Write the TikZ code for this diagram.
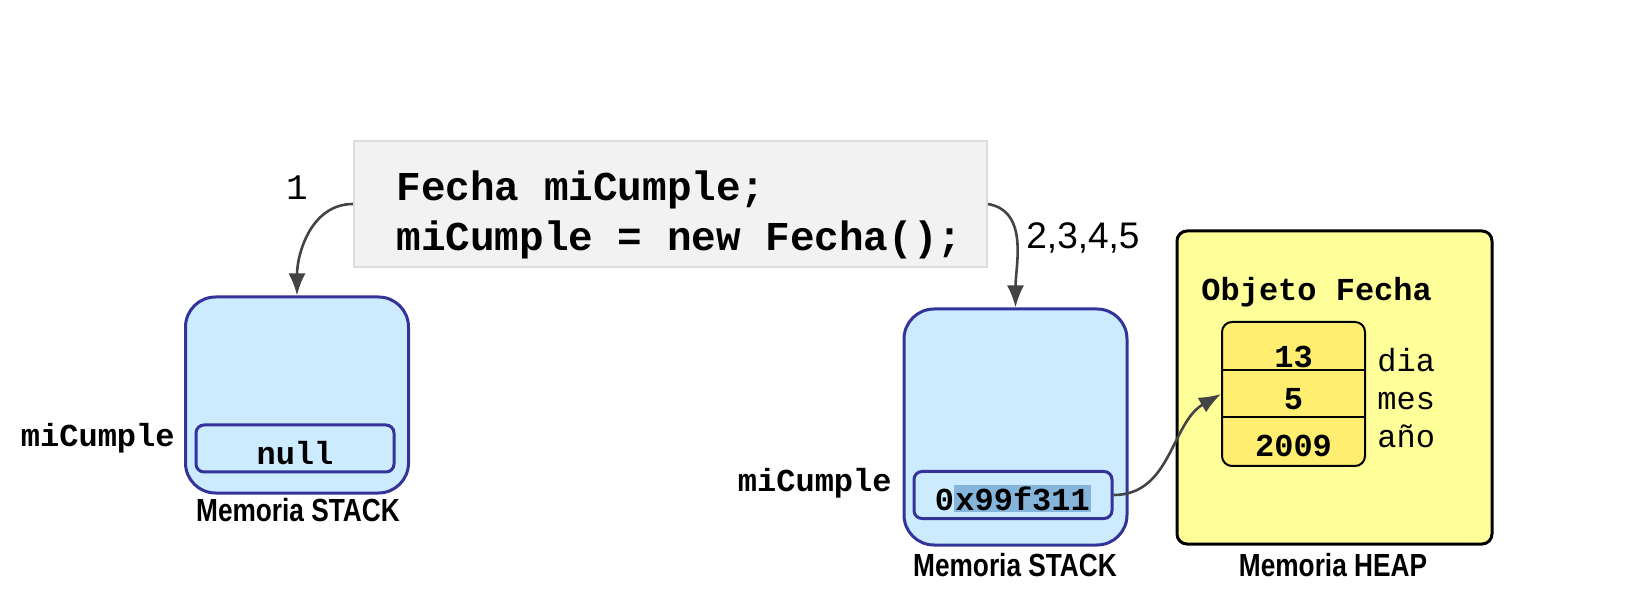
\documentclass[tikz,border=0pt]{standalone}
\usepackage{fontspec}
\setmainfont{Liberation Sans}
\newfontfamily\codefont{Liberation Mono}
\newfontfamily\narrowfont[FakeStretch=0.82]{Liberation Sans}
\usetikzlibrary{positioning}
\usetikzlibrary{arrows.meta}

\definecolor{stackfill}{HTML}{CCEBFF}
\definecolor{stackline}{HTML}{33339A}
\definecolor{heapfill}{HTML}{FFFF99}
\definecolor{fieldfill}{HTML}{FFEE70}
\definecolor{codefill}{HTML}{F2F2F2}
\definecolor{codeline}{HTML}{DCDCDC}
\definecolor{arrowgrey}{HTML}{444444}
\definecolor{selblue}{HTML}{85B5DB}

\begin{document}
\begin{tikzpicture}[x=0.5pt,y=-0.5pt,
    basic/.style={draw,line width=1.5pt,inner sep=0pt},
    stack/.style={basic,draw=stackline,fill=stackfill,rounded corners=15pt,minimum width=111.5pt},
    slot/.style={basic,draw=stackline,fill=stackfill,rounded corners=4pt,minimum width=99pt,minimum height=23.5pt},
    code/.style={inner sep=0pt,anchor=base west,font=\codefont\bfseries\fontsize{20.5}{25}\selectfont},
    mono/.style={inner sep=0pt,anchor=base,font=\codefont\bfseries\fontsize{16}{19}\selectfont},
    field/.style={inner sep=0pt,anchor=base west,font=\codefont\fontsize{16}{19}\selectfont},
    caption/.style={inner sep=0pt,anchor=base,font=\narrowfont\bfseries\fontsize{16}{19}\selectfont},
    link/.style={-{Latex[length=11pt,width=8.5pt]},line width=1.3pt,draw=arrowgrey},
]
    \useasboundingbox (0,0) rectangle (1633,598);
    % code
    \node[draw=codeline,fill=codefill,line width=1pt,minimum width=316.5pt,minimum height=63pt] (codebox) at (670.5,204) {};
    \node[code] (line1) at (396,201) {Fecha miCumple;};
    \node[code] (line2) at (396,251) {miCumple = new Fecha();};
    \node[inner sep=0pt,anchor=base,font=\codefont\fontsize{18}{21}\selectfont] (step1) at (297,200) {1};
    \node[inner sep=0pt,anchor=base west,font=\fontsize{18.5}{22}\selectfont] (step2) at (1026,249) {2,3,4,5};
    % stack 1
    \node[stack,minimum height=98pt] (lstack) at (297,395) {};
    \node[slot] (lslot) at (295,448.5) {};
    \node[mono] (lnull) at (295,465) {null};
    \node[mono,anchor=base east] (lvar) at (175,446) {miCumple};
    \node[caption] (lcap) at (298,522) {Memoria STACK};
    % stack 2
    \node[stack,minimum height=118pt] (rstack) at (1015.5,427) {};
    \node[slot] (rslot) at (1013,495) {};
    \node[mono] (rref) at (1013,510) {0{\setlength\fboxsep{0.6pt}\colorbox{selblue}{x99f311}}};
    \node[mono,anchor=base east] (rvar) at (892,492) {miCumple};
    \node[caption] (rcap) at (1015,576) {Memoria STACK};
    % heap
    \node[basic,fill=heapfill,rounded corners=5pt,minimum width=157.5pt,minimum height=156.5pt] (heap) at (1334.5,387.5) {};
    \node[mono,anchor=base west] (objname) at (1201,301) {Objeto Fecha};
    \node[basic,line width=1pt,fill=fieldfill,rounded corners=5pt,minimum width=71.5pt,minimum height=72pt] (fields) at (1293.5,394) {};
    \draw[line width=1pt] (fields.west |- 0,370) -- (fields.east |- 0,370);
    \draw[line width=1pt] (fields.west |- 0,417) -- (fields.east |- 0,417);
    \node[mono] (dia) at (1293.5,368) {13};
    \node[mono] (mes) at (1293.5,410) {5};
    \node[mono] (anio) at (1293.5,457) {2009};
    \node[field] (ldia) at (1377,372) {dia};
    \node[field] (lmes) at (1377,410) {mes};
    \node[field] (lanio) at (1377,448) {año};
    \node[caption] (hcap) at (1333,576) {Memoria HEAP};
    % arrows
    \draw[link] (codebox.west) to[out=180,in=90] (lstack.north);
    \draw[link] (codebox.east) to[out=-10,in=90] (rstack.north);
    \draw[link] (rslot.east) to[out=0,in=210] (fields.west);
\end{tikzpicture}
\end{document}
